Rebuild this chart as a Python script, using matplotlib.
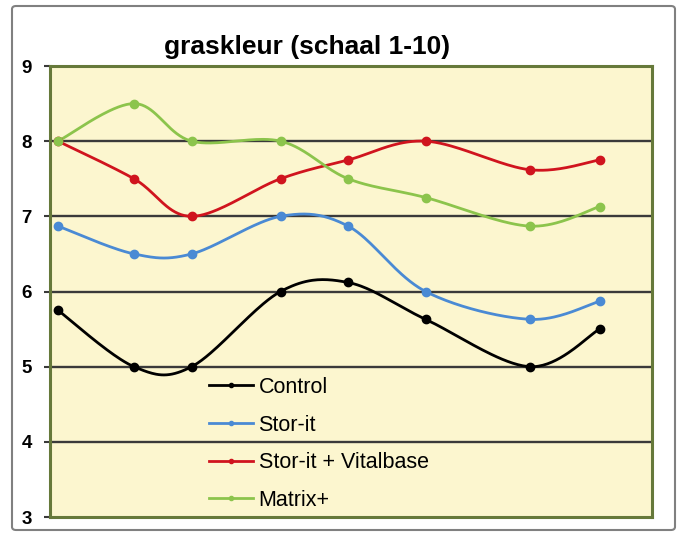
import numpy as np
import matplotlib
matplotlib.use('Agg')
import matplotlib.pyplot as plt
from matplotlib.patches import FancyBboxPatch
from matplotlib.lines import Line2D

# measurement moments (irregular spacing, no labels on the x axis)
days = [0, 10, 17.6, 29.3, 38.2, 48.4, 62.1, 71.3]

control = [5.75, 5.0, 5.0, 6.0, 6.12, 5.63, 5.0, 5.5]
stor_it = [6.87, 6.5, 6.5, 7.0, 6.87, 6.0, 5.63, 5.87]
stor_it_vital = [8.0, 7.5, 7.0, 7.5, 7.75, 8.0, 7.62, 7.75]
matrix_plus = [8.0, 8.5, 8.0, 8.0, 7.5, 7.25, 6.87, 7.13]

labels = ["Control", "Stor-it", "Stor-it + Vitalbase", "Matrix+"]
colors = ["#000000", "#4a8ad4", "#d0141e", "#8cc44c"]
title = "graskleur (schaal 1-10)"
yticks = [3, 4, 5, 6, 7, 8, 9]

plt.rcParams['font.family'] = ['Liberation Sans', 'DejaVu Sans']


def smooth(x, y, n=40):
    # excel-like smoothed line (catmull-rom as cubic bezier)
    p = np.column_stack([x, y]).astype(float)
    p = np.vstack([p[0], p, p[-1]])
    out = []
    t = np.linspace(0, 1, n)
    for i in range(1, len(p) - 2):
        p0, p1, p2, p3 = p[i - 1], p[i], p[i + 1], p[i + 2]
        c1 = p1 + (p2 - p0) / 6.0
        c2 = p2 - (p3 - p1) / 6.0
        seg = ((1 - t)**3)[:, None] * p1 + (3 * (1 - t)**2 * t)[:, None] * c1 \
            + (3 * (1 - t) * t**2)[:, None] * c2 + (t**3)[:, None] * p2
        out.append(seg)
    out = np.vstack(out)
    return out[:, 0], out[:, 1]


fig = plt.figure(figsize=(6.81, 5.34), dpi=100)

# outer chart border
frame = FancyBboxPatch((12 / 681, 4 / 534), 663 / 681, 524 / 534,
                       boxstyle="round,pad=0,rounding_size=0.006",
                       transform=fig.transFigure, facecolor='none',
                       edgecolor='#808080', linewidth=1.5, zorder=10)
fig.patches.append(frame)

ax = fig.add_axes([50 / 681, 17 / 534, 602 / 681, 451 / 534])
ax.set_facecolor('#fcf6cf')

for yv in yticks[1:-1]:
    ax.axhline(yv, color='#3a3a3a', linewidth=1.7, zorder=1)

series = [control, stor_it, stor_it_vital, matrix_plus]
for vals, col in zip(series, colors):
    sx, sy = smooth(days, vals)
    ax.plot(sx, sy, color=col, linewidth=2.0, zorder=3, solid_capstyle='round')
    ax.plot(days, vals, 'o', color=col, markersize=6, zorder=4)

ax.set_xlim(-1.05, 78.2)
ax.set_ylim(3, 9)
ax.set_yticks(yticks)
ax.set_xticks([])
ax.tick_params(axis='y', length=4, width=1.5, color='#3a3a3a', pad=9,
               labelsize=13.5)
for lab in ax.get_yticklabels():
    lab.set_fontweight('bold')
for sp in ax.spines.values():
    sp.set_color('#66793a')
    sp.set_linewidth(2.2)

fig.text(307 / 681, 1 - 47 / 534, title, ha='center', va='center',
         fontsize=19, fontweight='bold')

handles = [Line2D([0], [0], color=c, linewidth=2, marker='o', markersize=3)
           for c in colors]
ax.legend(handles, labels, loc='upper left',
          bbox_to_anchor=(209 / 681, 1 - 377 / 534),
          bbox_transform=fig.transFigure, frameon=False, fontsize=15.5,
          handlelength=2.05, handletextpad=0.25, labelspacing=0.77,
          borderpad=0, borderaxespad=0)

fig.savefig("out.png", dpi=100)
